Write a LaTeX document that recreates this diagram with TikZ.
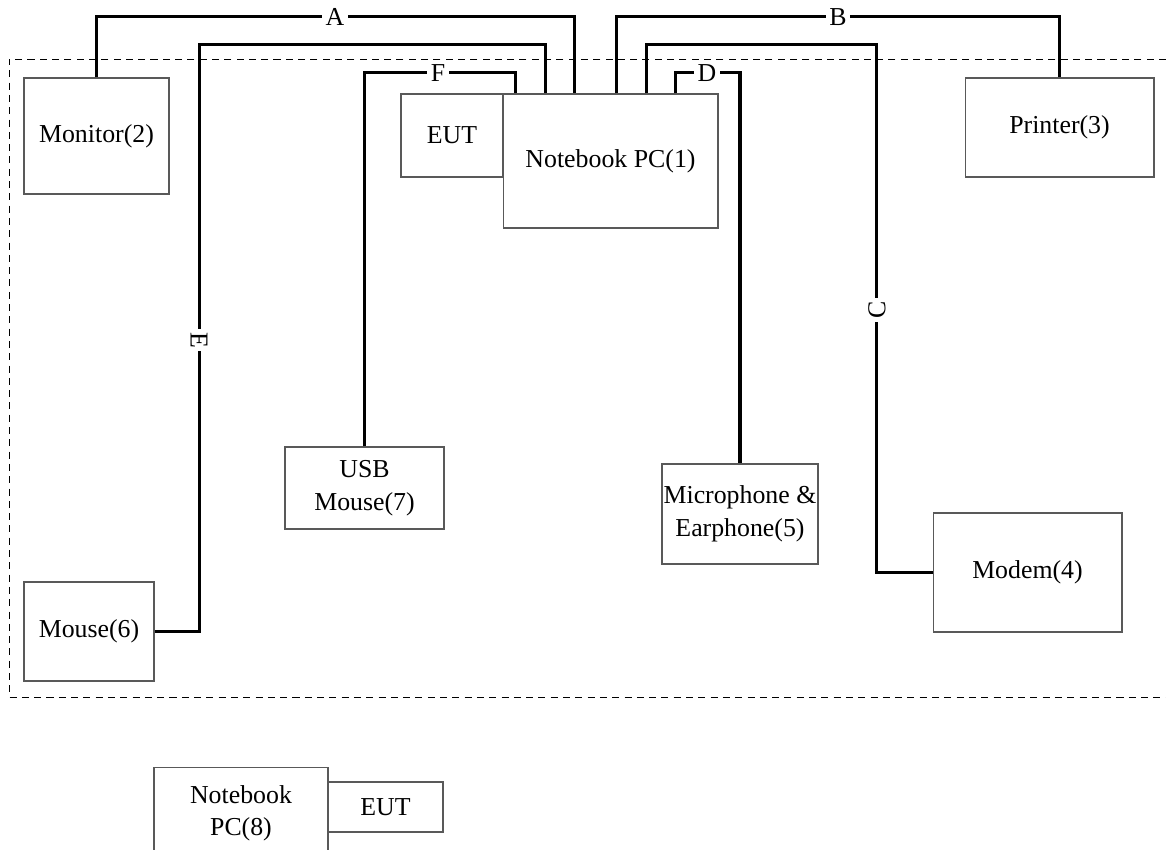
\documentclass[tikz,border=0pt]{standalone}
\usepackage{fontspec}
\setmainfont{Liberation Serif}
\usetikzlibrary{calc}
\tikzstyle{every node}=[font=\fontsize{14.7}{18.5}\selectfont]

\begin{document}
\begin{tikzpicture}[x=0.02cm,y=-0.02cm]
		\tikzstyle{box} = [draw=black!65,line width=0.6pt,fill=white,align=center,inner sep=0pt]
		\tikzstyle{cable} = [line width=2.2pt,line join=miter]
		\tikzstyle{lbl} = [fill=white,inner sep=2pt]
		
		\useasboundingbox (0,0) rectangle (1166,849);
		\clip (0,0) rectangle (1166,849);
		
		% test table
		\draw[dash pattern=on 4pt off 3pt,line width=0.55pt] (1166,59) -- (9,59) -- (9,697) -- (1166,697);
		
		\node[box,minimum width=2.9cm,minimum height=2.32cm] (mon) at (96.5,136) {Monitor(2)};
		\node[box,minimum width=3.78cm,minimum height=1.98cm] (prn) at (1059.5,127.5) {Printer(3)};
		\node[box,minimum width=4.3cm,minimum height=2.68cm] (pc1) at (610.5,161) {Notebook PC(1)};
		\node[box,minimum width=2.04cm,minimum height=1.66cm] (eut1) at (452,135.5) {EUT};
		\node[box,minimum width=3.18cm,minimum height=1.64cm] (usb) at (364.5,488) {USB\\Mouse(7)};
		\node[box,minimum width=3.12cm,minimum height=2cm] (mic) at (740,514) {Microphone \&\\Earphone(5)};
		\node[box,minimum width=3.78cm,minimum height=2.38cm] (mdm) at (1027.5,572.5) {Modem(4)};
		\node[box,minimum width=2.6cm,minimum height=1.98cm] (mou) at (89,631.5) {Mouse(6)};
		
		\coordinate (pF) at ($(pc1.north west)+(13,0)$);
		\coordinate (pE) at ($(pc1.north west)+(43,0)$);
		\coordinate (pA) at ($(pc1.north west)+(72,0)$);
		\coordinate (pB) at ($(pc1.north west)+(114,0)$);
		\coordinate (pC) at ($(pc1.north west)+(144,0)$);
		\coordinate (pD) at ($(pc1.north west)+(173,0)$);
		
		\draw[cable] (mon.north) -- ++(0,-61) -| (pA);
		\draw[cable] (pB) -- ++(0,-77) -| (prn.north);
		\draw[cable] (pC) -- ++(0,-49) -| ($(mdm.west)+(-56,0)$) -- (mdm.west);
		\draw[cable] (pD) -- ++(0,-21) -| (mic.north);
		\draw[cable] (mou.east) -- ++(45,0) |- ($(pE)+(0,-49)$) -- (pE);
		\draw[cable] (usb.north) |- ($(pF)+(0,-21)$) -- (pF);
		
		\node[lbl] (labA) at (335,17) {A};
		\node[lbl] (labB) at (838,17) {B};
		\node[lbl,rotate=90] (labC) at (877,310) {C};
		\node[lbl] (labD) at (707,73) {D};
		\node[lbl,rotate=-90] (labE) at (199,340) {E};
		\node[lbl] (labF) at (438,73) {F};
		
		% support unit
		\node[box,minimum width=3.48cm,minimum height=1.84cm,anchor=north] (pc8) at (241,767) {Notebook\\PC(8)};
		\node[box,minimum width=2.3cm,minimum height=1cm] (eut8) at (385.5,807) {EUT};
		
	\end{tikzpicture}
\end{document}
